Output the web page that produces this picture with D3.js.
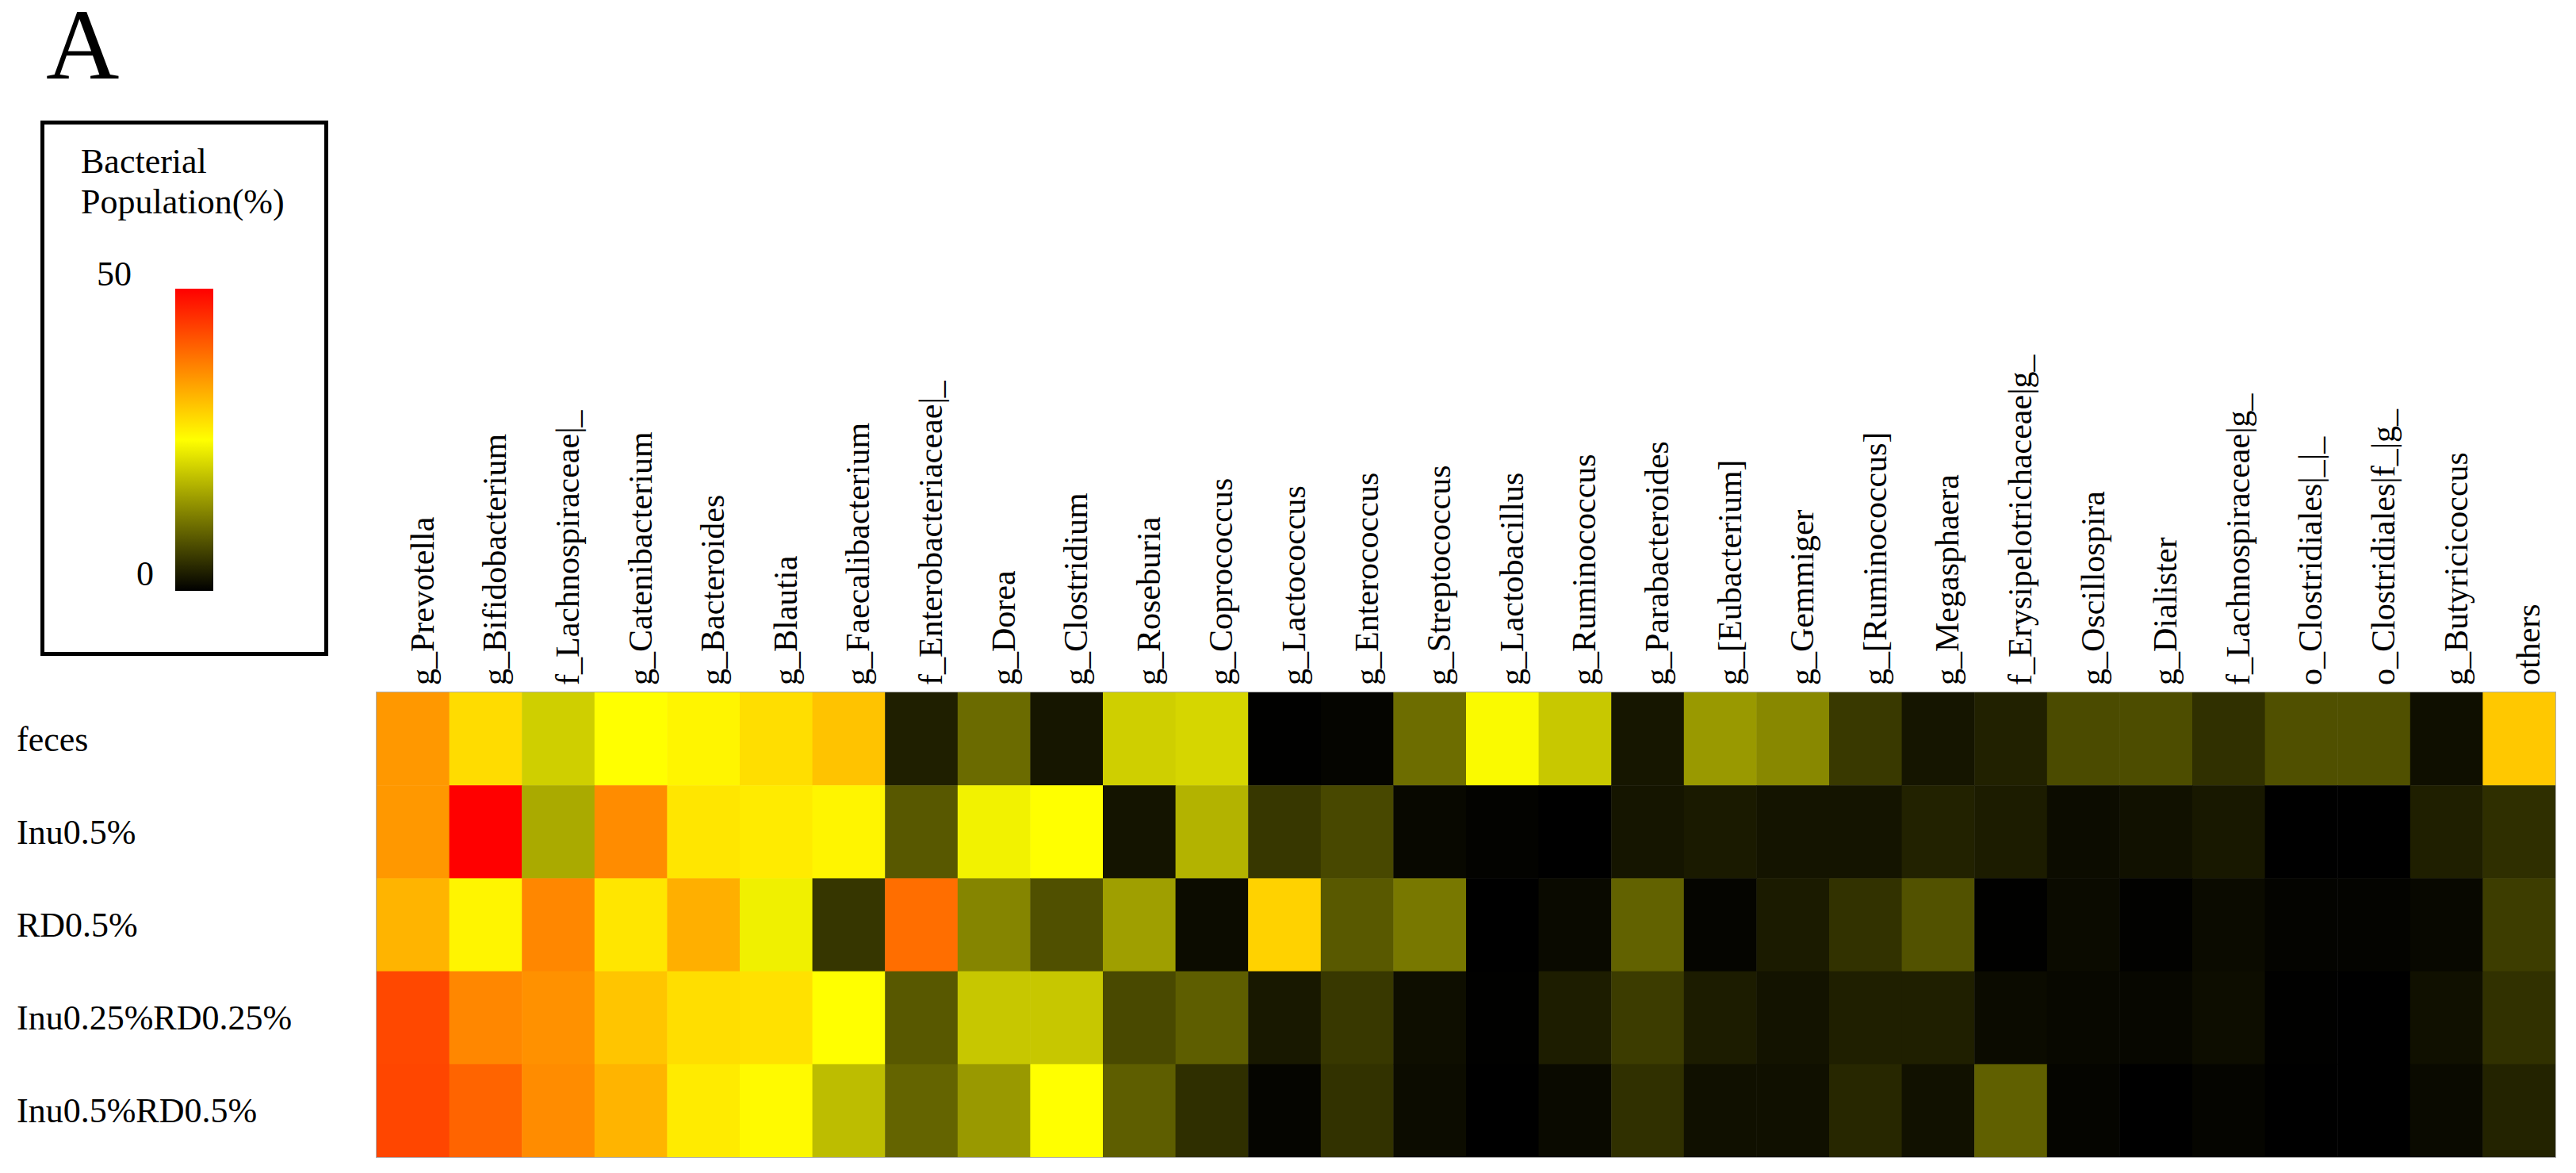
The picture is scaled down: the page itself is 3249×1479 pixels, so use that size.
<!DOCTYPE html>
<html>
<head>
<meta charset="utf-8">
<script src="https://d3js.org/d3.v7.min.js"></script>
<style>
  body { margin: 0; background: #fff; }
  text { font-family: "Liberation Serif", "Times New Roman", serif; fill: #000; }
</style>
</head>
<body>
<div id="chart"></div>
<script>
// samples (rows) and taxa (columns)
var samples = ["feces", "Inu0.5%", "RD0.5%", "Inu0.25%RD0.25%", "Inu0.5%RD0.5%"]

var taxa = ["g_Prevotella", "g_Bifidobacterium", "f_Lachnospiraceae|_", "g_Catenibacterium",
  "g_Bacteroides", "g_Blautia", "g_Faecalibacterium", "f_Enterobacteriaceae|_", "g_Dorea",
  "g_Clostridium", "g_Roseburia", "g_Coprococcus", "g_Lactococcus", "g_Enterococcus",
  "g_Streptococcus", "g_Lactobacillus", "g_Ruminococcus", "g_Parabacteroides", "g_[Eubacterium]",
  "g_Gemmiger", "g_[Ruminococcus]", "g_Megasphaera", "f_Erysipelotrichaceae|g_", "g_Oscillospira",
  "g_Dialister", "f_Lachnospiraceae|g_", "o_Clostridiales|_|_", "o_Clostridiales|f_|g_",
  "g_Butyricicoccus", "others"]

// bacterial population (%) per sample, in taxa order
var feces = [35.1, 28.4, 20.3, 25, 26, 28.2, 30.9, 3.0, 10.5, 2.2, 20.3, 21, 0.1, 0.5, 10.7,
  24.5, 19.6, 2.2, 15, 13.3, 5.6, 2.1, 3.2, 7.4, 7.5, 4.7, 7.8, 7.8, 1.5, 30.4]
var inu05 = [35.1, 50, 16.7, 36.3, 27.5, 27, 26, 8.6, 23.7, 25, 2, 17.5, 5.4, 7.1, 0.8,
  0.3, 0, 2.1, 2.5, 2, 2, 3.3, 2.7, 1.2, 1.7, 2.4, 0, 0, 3, 4.6]
var rd05 = [32.4, 26, 36.8, 27.5, 32.8, 23.5, 5.3, 39.2, 13, 7.8, 15.6, 1.2, 29.4, 8.7, 11.8,
  0, 1, 9.6, 0.5, 2.6, 4.9, 8, 0.1, 1.1, 0.2, 1.1, 0.4, 0.4, 0.8, 6]
var inu025rd025 = [42.9, 36.8, 35.8, 30.7, 28.2, 27.9, 25, 8.6, 19.5, 19.5, 7.2, 9.2, 2.4, 5.5, 1.4,
  0.1, 2.8, 5.9, 2.7, 1.9, 3, 3, 1.1, 0.8, 0.7, 1.3, 0.1, 0, 1.6, 4.8]
var inu05rd05 = [43.1, 40.2, 36.3, 32.4, 27, 25.5, 18.5, 9.8, 15, 25, 9.2, 4.6, 0.5, 4.9, 1.2,
  0, 1, 4.7, 1.6, 1.6, 3.8, 1.7, 9.4, 0.5, 0, 0.5, 0, 0, 1, 3.4]

var legendTicks = [0, 50]

// set the dimensions
var W = 3249, H = 1479
var hm = { left: 475, top: 873, right: 3223, bottom: 1459 }

var svg = d3.select("#chart")
  .append("svg")
  .attr("width", W)
  .attr("height", H)

// flatten to cells
var series = [feces, inu05, rd05, inu025rd025, inu05rd05]
var cells = []
series.forEach(function(vals, i) {
  vals.forEach(function(v, j) {
    cells.push({ sample: samples[i], taxon: taxa[j], value: v })
  })
})

var x = d3.scaleBand().domain(taxa).range([hm.left, hm.right])
var y = d3.scaleBand().domain(samples).range([hm.top, hm.bottom])

var color = d3.scaleLinear()
  .domain([0, 25, 50])
  .range(["#000000", "#ffff00", "#ff0000"])
  .clamp(true)

// heatmap cells
svg.append("g")
  .selectAll("rect")
  .data(cells)
  .enter()
  .append("rect")
  .attr("x", function(d) { return x(d.taxon) })
  .attr("y", function(d) { return y(d.sample) })
  .attr("width", x.bandwidth() + 0.5)
  .attr("height", y.bandwidth() + 0.5)
  .attr("fill", function(d) { return color(d.value) })

// thin frame round the heatmap
svg.append("rect")
  .attr("x", hm.left - 0.5)
  .attr("y", hm.top - 0.5)
  .attr("width", hm.right - hm.left + 1)
  .attr("height", hm.bottom - hm.top + 1)
  .attr("fill", "none")
  .attr("stroke", "#b0b0b0")
  .attr("stroke-width", 1)

// column labels (rotated)
svg.append("g")
  .selectAll("text")
  .data(taxa)
  .enter()
  .append("text")
  .attr("transform", function(d) {
    return "translate(" + (x(d) + x.bandwidth() / 2 + 26) + "," + (hm.top - 9) + ") rotate(-90)"
  })
  .attr("text-anchor", "start")
  .style("font-size", "42px")
  .text(function(d) { return d })

// row labels
svg.append("g")
  .selectAll("text")
  .data(samples)
  .enter()
  .append("text")
  .attr("x", 21)
  .attr("y", function(d) { return y(d) + y.bandwidth() / 2 })
  .attr("dy", "0.34em")
  .style("font-size", "44px")
  .text(function(d) { return d })

// panel letter
svg.append("text")
  .attr("x", 58)
  .attr("y", 99)
  .style("font-size", "128px")
  .text("A")

// legend box
var lg = svg.append("g")
lg.append("rect")
  .attr("x", 53.5)
  .attr("y", 154.5)
  .attr("width", 358)
  .attr("height", 670)
  .attr("fill", "#fff")
  .attr("stroke", "#000")
  .attr("stroke-width", 5)

lg.append("text").attr("x", 102).attr("y", 218).style("font-size", "44px").text("Bacterial")
lg.append("text").attr("x", 102).attr("y", 269).style("font-size", "44px").text("Population(%)")

// gradient bar
var ly = d3.scaleLinear().domain([0, 50]).range([745, 364])
var grad = svg.append("defs").append("linearGradient")
  .attr("id", "popgrad")
  .attr("x1", 0).attr("y1", 1).attr("x2", 0).attr("y2", 0)
grad.selectAll("stop")
  .data(color.domain())
  .enter()
  .append("stop")
  .attr("offset", function(d) { return d / 50 })
  .attr("stop-color", function(d) { return color(d) })

lg.append("rect")
  .attr("x", 221)
  .attr("y", ly(50))
  .attr("width", 48)
  .attr("height", ly(0) - ly(50))
  .attr("fill", "url(#popgrad)")

// tick labels: "50" sits further left than "0"
lg.selectAll(".tick")
  .data(legendTicks)
  .enter()
  .append("text")
  .attr("class", "tick")
  .attr("x", function(d) { return d === 0 ? 194 : 166 })
  .attr("y", function(d) { return d === 0 ? ly(d) - 7 : ly(d) - 4 })
  .attr("text-anchor", "end")
  .style("font-size", "44px")
  .text(function(d) { return d })
</script>
</body>
</html>
